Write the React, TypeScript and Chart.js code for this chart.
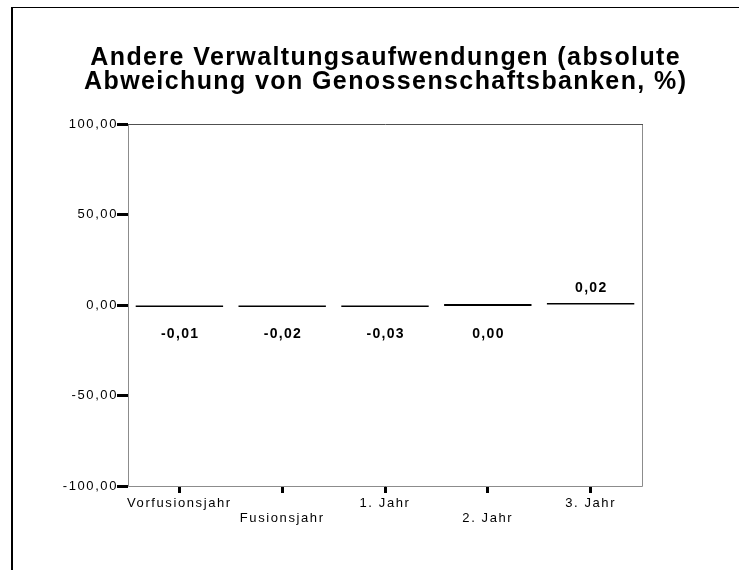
import React, { useEffect, useRef } from 'react';
import { Chart, registerables } from 'chart.js';

Chart.register(...registerables);

const categories = ['Vorfusionsjahr', 'Fusionsjahr', '1. Jahr', '2. Jahr', '3. Jahr'];
const values = [-0.01, -0.02, -0.03, 0.0, 0.02];
const yTicks = [-100, -50, 0, 50, 100];
const titleLines = [
  'Andere Verwaltungsaufwendungen (absolute',
  'Abweichung von Genossenschaftsbanken, %)',
];

const FONT = '"Liberation Sans", Arial, Helvetica, sans-serif';
const fmt = (v: number) => (Math.abs(v) < 1e-9 ? 0 : v).toFixed(2).replace('.', ',');

const decor = {
  id: 'decor',
  beforeDraw(chart: any) {
    const { ctx, width, height } = chart;
    ctx.save();
    ctx.fillStyle = '#ffffff';
    ctx.fillRect(0, 0, width, height);
    ctx.fillStyle = '#000000';
    ctx.fillRect(11, 7, 2, height - 7);
    ctx.fillRect(11, 7, width - 11, 1);
    ctx.restore();
    ctx.letterSpacing = '1.6px';
  },
  afterDraw(chart: any) {
    const { ctx, chartArea: a } = chart;
    ctx.save();
    // plot frame
    ctx.lineWidth = 1;
    ctx.strokeStyle = '#8c8c8c';
    ctx.beginPath();
    ctx.moveTo(a.left + 0.5, a.top);
    ctx.lineTo(a.left + 0.5, a.bottom + 0.5);
    ctx.lineTo(a.right + 0.5, a.bottom + 0.5);
    ctx.lineTo(a.right + 0.5, a.top);
    ctx.stroke();
    ctx.strokeStyle = '#505050';
    ctx.beginPath();
    ctx.moveTo(a.left, a.top + 0.5);
    ctx.lineTo(a.right + 1, a.top + 0.5);
    ctx.stroke();

    // title
    ctx.fillStyle = '#000000';
    ctx.textAlign = 'center';
    ctx.textBaseline = 'alphabetic';
    ctx.font = `bold 25px ${FONT}`;
    ctx.letterSpacing = '1.4px';
    const cx = (a.left + a.right) / 2 + 0.7;
    titleLines.forEach((t, i) => ctx.fillText(t, cx, 65 + i * 24));

    // value labels
    const meta = chart.getDatasetMeta(0);
    const yz = chart.scales.y.getPixelForValue(0);
    ctx.font = `bold 14px ${FONT}`;
    ctx.letterSpacing = '1.3px';
    ctx.textBaseline = 'middle';
    meta.data.forEach((bar: any, i: number) => {
      const v = values[i];
      const y = v > 0 ? yz - 17 : yz + 29;
      ctx.fillText(fmt(v), bar.x + 0.7, y);
    });
    ctx.restore();
  },
};

export default function App() {
  const ref = useRef<HTMLCanvasElement | null>(null);
  useEffect(() => {
    document.body.style.margin = '0';
    const chart = new Chart(ref.current as HTMLCanvasElement, {
      type: 'bar',
      data: {
        labels: categories,
        datasets: [
          {
            data: values,
            backgroundColor: '#000000',
            borderWidth: 0,
            minBarLength: 2,
            barPercentage: 0.85,
            categoryPercentage: 1,
          },
        ],
      },
      options: {
        animation: false,
        responsive: false,
        devicePixelRatio: 1,
        layout: { padding: { left: 0, top: 124, right: 97, bottom: 0 } },
        plugins: {
          legend: { display: false },
          title: { display: false },
          tooltip: { enabled: false },
        },
        scales: {
          y: {
            min: -100,
            max: 100,
            afterBuildTicks: (s: any) => {
              s.ticks = yTicks.map((v) => ({ value: v }));
            },
            ticks: {
              callback: (v: any) => fmt(Number(v)),
              color: '#000000',
              font: { family: FONT, size: 13 },
              padding: -1,
            },
            grid: {
              drawOnChartArea: false,
              tickLength: 11,
              tickWidth: 3,
              tickColor: '#000000',
            },
            border: { display: false },
            afterFit: (s: any) => {
              s.width = 128;
            },
          },
          x: {
            ticks: {
              callback: (_v: any, i: number) => (i % 2 ? ['', categories[i]] : categories[i]),
              autoSkip: false,
              maxRotation: 0,
              color: '#000000',
              font: { family: FONT, size: 13, lineHeight: 1.15 },
              padding: 3,
            },
            grid: {
              offset: false,
              drawOnChartArea: false,
              tickLength: 7,
              tickWidth: 3,
              tickColor: '#000000',
            },
            border: { display: false },
            afterFit: (s: any) => {
              s.height = 84;
            },
          },
        },
      },
      plugins: [decor],
    });
    return () => chart.destroy();
  }, []);
  return (
    <div style={{ position: 'absolute', left: 0, top: 0, width: 739, height: 570 }}>
      <canvas ref={ref} width={739} height={570} style={{ width: 739, height: 570 }} />
    </div>
  );
}
